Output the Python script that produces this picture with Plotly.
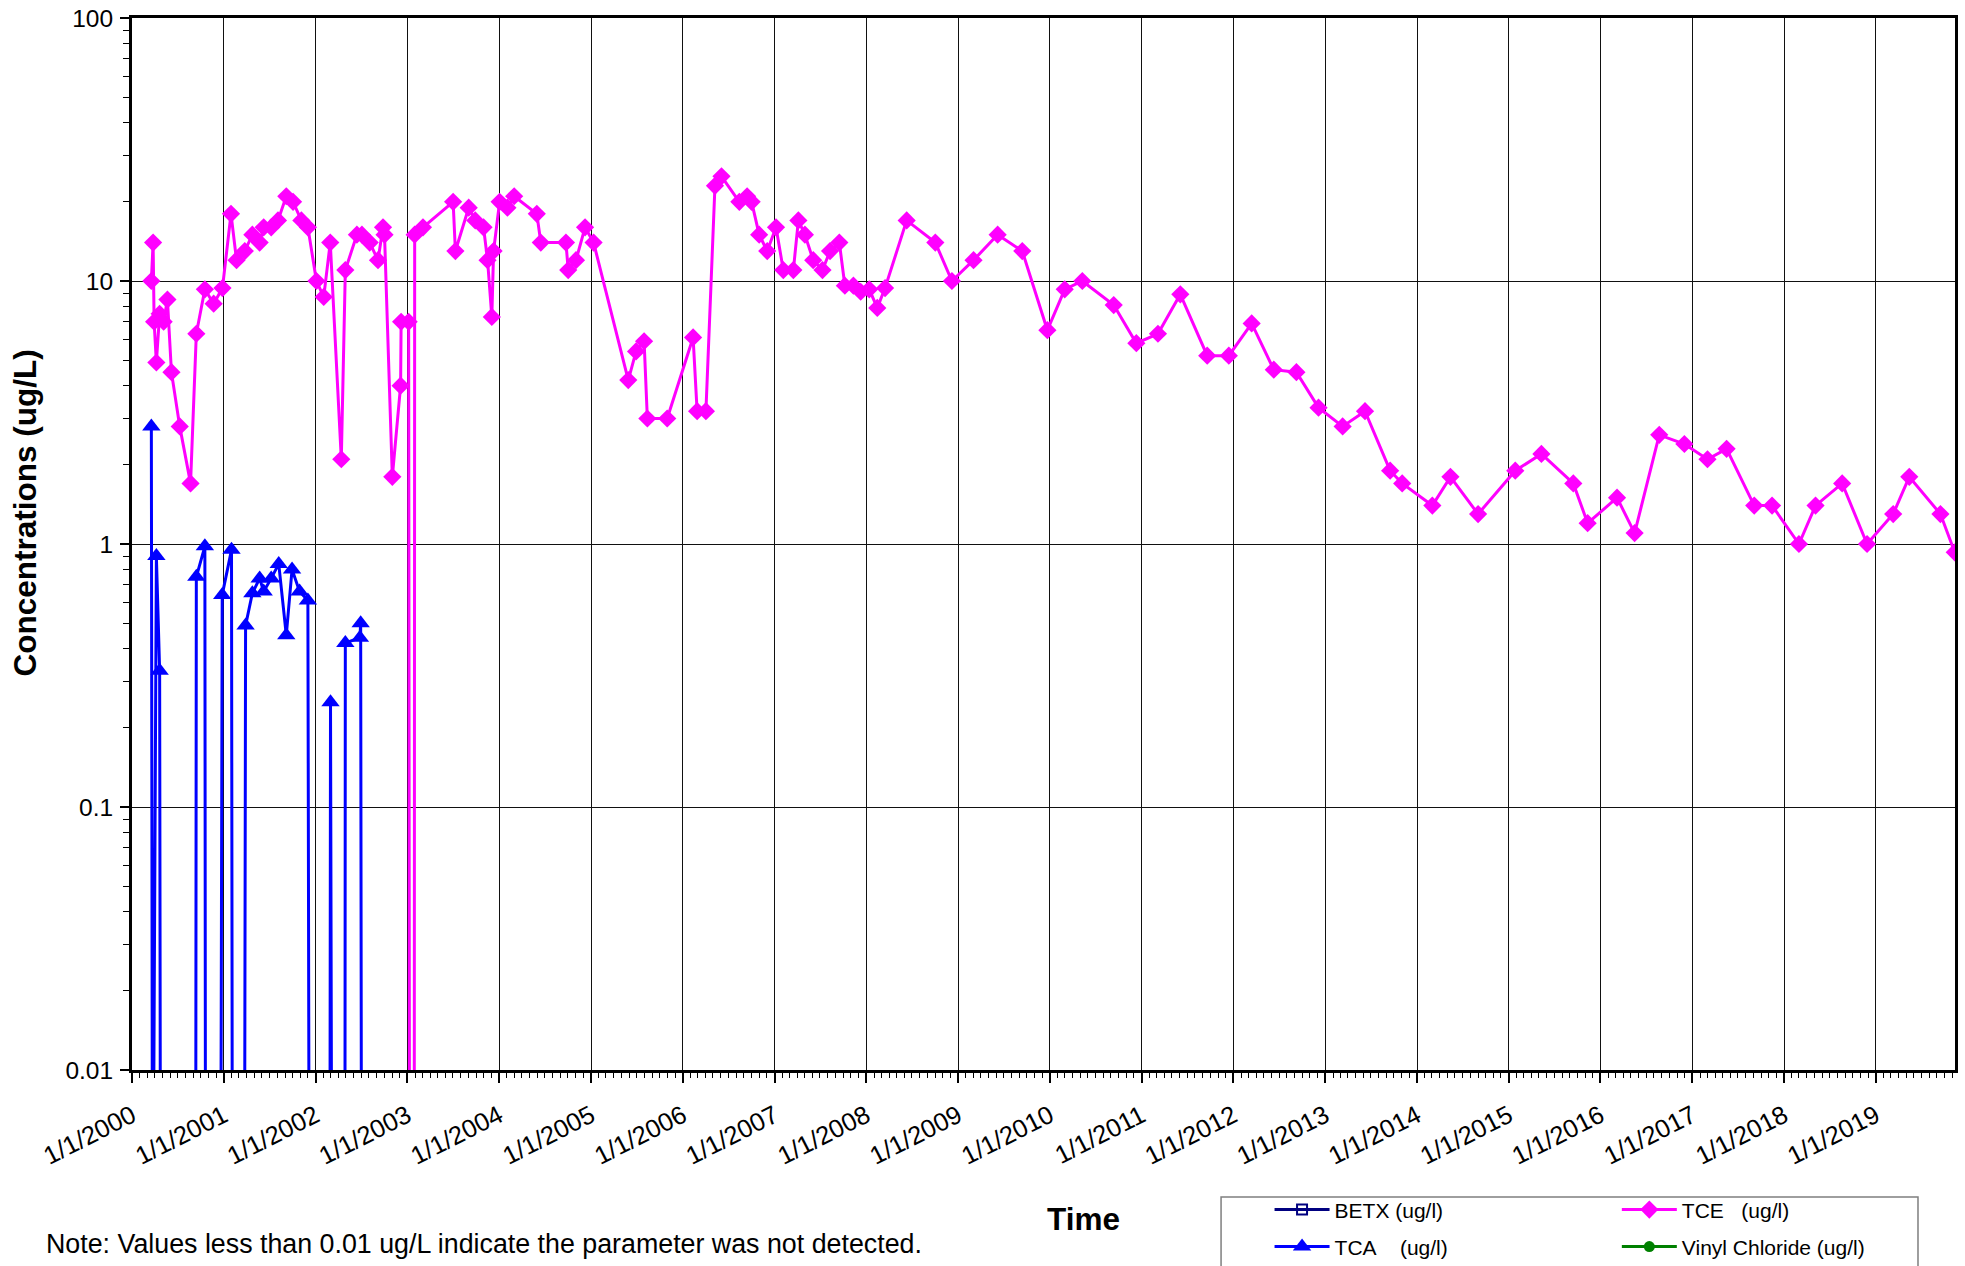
import plotly.graph_objects as go
import numpy as np

ND = 0.001  # non-detect: plotted below the 0.01 axis floor

tce_dates = [
    "2000-03-18", "2000-03-25", "2000-03-29", "2000-04-07", "2000-04-20", "2000-05-06",
    "2000-05-21", "2000-06-06", "2000-07-09", "2000-08-21", "2000-09-13", "2000-10-17",
    "2000-11-21", "2000-12-26", "2001-01-29", "2001-02-20", "2001-03-25", "2001-04-24",
    "2001-05-23", "2001-06-08", "2001-07-08", "2001-08-04", "2001-09-06", "2001-10-03",
    "2001-11-05", "2001-12-01", "2002-01-04", "2002-02-02", "2002-02-28", "2002-04-13",
    "2002-04-29", "2002-06-14", "2002-07-04", "2002-08-04", "2002-09-06", "2002-09-26",
    "2002-10-02", "2002-11-02", "2002-12-05", "2002-12-07", "2003-01-06", "2003-01-10",
    "2003-01-28", "2003-01-30", "2003-03-04", "2003-07-02", "2003-07-11", "2003-09-02",
    "2003-09-28", "2003-10-31", "2003-11-16", "2003-12-03", "2003-12-10", "2004-01-03",
    "2004-02-03", "2004-03-01", "2004-05-30", "2004-06-15", "2004-09-23", "2004-10-02",
    "2004-11-02", "2004-12-08", "2005-01-11", "2005-05-29", "2005-06-29", "2005-07-31",
    "2005-08-13", "2005-10-31", "2006-02-11", "2006-02-27", "2006-04-03", "2006-05-09",
    "2006-06-04", "2006-08-14", "2006-09-14", "2006-10-02", "2006-11-01", "2006-12-03",
    "2007-01-07", "2007-02-05", "2007-03-17", "2007-04-06", "2007-05-02", "2007-06-04",
    "2007-07-11", "2007-08-10", "2007-09-16", "2007-10-08", "2007-11-11", "2007-12-10",
    "2008-01-13", "2008-02-14", "2008-03-16", "2008-06-10", "2008-10-02", "2008-12-07",
    "2009-03-03", "2009-06-07", "2009-09-13", "2009-12-22", "2010-03-01", "2010-05-10",
    "2010-09-12", "2010-12-11", "2011-03-07", "2011-06-04", "2011-09-19", "2011-12-14",
    "2012-03-14", "2012-06-10", "2012-09-08", "2012-12-05", "2013-03-11", "2013-06-08",
    "2013-09-16", "2013-11-03", "2014-03-03", "2014-05-14", "2014-09-01", "2015-01-27",
    "2015-05-11", "2015-09-15", "2015-11-11", "2016-03-07", "2016-05-16", "2016-08-22",
    "2016-11-30", "2017-03-02", "2017-05-17", "2017-09-04", "2017-11-14", "2018-03-01",
    "2018-05-06", "2018-08-20", "2018-11-27", "2019-03-11", "2019-05-14", "2019-09-15",
    "2019-11-11",
]
tce_values = [
    10, 14, 7.0, 4.9, 7.5, 7.0,
    8.5, 4.5, 2.8, 1.7, 6.3, 9.3,
    8.2, 9.4, 18, 12, 13, 15,
    14, 16, 16, 17, 21, 20,
    17, 16, 10, 8.7, 14, 2.1,
    11, 15, 15, 14, 12, 16,
    15, 1.8, 4.0, 7.0, 7.0, ND,
    ND, 15, 16, 20, 13, 19,
    17, 16, 12, 7.3, 13, 20,
    19, 21, 18, 14, 14, 11,
    12, 16, 14, 4.2, 5.4, 5.9,
    3.0, 3.0, 6.1, 3.2, 3.2, 23,
    25, 20, 21, 20, 15, 13,
    16, 11, 11, 17, 15, 12,
    11, 13, 14, 9.6, 9.6, 9.1,
    9.3, 7.9, 9.4, 17, 14, 10,
    12, 15, 13, 6.5, 9.3, 10,
    8.1, 5.8, 6.3, 8.9, 5.2, 5.2,
    6.9, 4.6, 4.5, 3.3, 2.8, 3.2,
    1.9, 1.7, 1.4, 1.8, 1.3, 1.9,
    2.2, 1.7, 1.2, 1.5, 1.1, 2.6,
    2.4, 2.1, 2.3, 1.4, 1.4, 1.0,
    1.4, 1.7, 1.0, 1.3, 1.8, 1.3,
    0.93,
]

tca_dates = [
    "2000-03-18", "2000-03-23", "2000-04-07", "2000-04-20", "2000-04-24", "2000-09-10",
    "2000-09-13", "2000-10-17", "2000-10-20", "2000-12-18", "2000-12-25", "2001-01-31",
    "2001-02-04", "2001-03-23", "2001-03-28", "2001-04-24", "2001-05-23", "2001-06-08",
    "2001-07-08", "2001-08-07", "2001-09-06", "2001-09-29", "2001-10-29", "2001-12-01",
    "2001-12-07", "2002-02-26", "2002-03-01", "2002-03-07", "2002-04-27", "2002-04-29",
    "2002-06-26", "2002-06-29", "2002-07-03",
]
tca_values = [
    2.8, ND, 0.9, 0.33, ND, ND,
    0.75, 0.98, ND, ND, 0.64, 0.95,
    ND, ND, 0.49, 0.65, 0.74, 0.66,
    0.74, 0.84, 0.45, 0.80, 0.66, 0.61,
    ND, ND, 0.25, ND, ND, 0.42,
    0.44, 0.50, ND,
]

# BETX and vinyl chloride were never detected (below the plotted floor)
betx_dates = ["2000-03-18"]
betx_values = [ND]
vc_dates = ["2000-03-18"]
vc_values = [ND]

series_names = ["BETX (ug/l)", "TCE\u00a0\u00a0\u00a0(ug/l)", "TCA\u00a0\u00a0\u00a0\u00a0(ug/l)", "Vinyl Chloride (ug/l)"]

y_tick_vals = [0.01, 0.1, 1, 10, 100]
y_tick_text = ["0.01", "0.1", "1", "10", "100"]

FONT = "Liberation Sans, Arial, sans-serif"

fig = go.Figure()
fig.add_trace(go.Scatter(
    x=betx_dates, y=betx_values, name=series_names[0], mode="lines+markers",
    line=dict(color="#000080", width=3),
    marker=dict(symbol="square-open", size=10, color="#000080", line=dict(width=2, color="#000080")),
    legend="legend"))
fig.add_trace(go.Scatter(
    x=tce_dates, y=tce_values, name=series_names[1], mode="lines+markers",
    line=dict(color="#FF00FF", width=3),
    marker=dict(symbol="diamond", size=14, color="#FF00FF"),
    legend="legend2"))
fig.add_trace(go.Scatter(
    x=tca_dates, y=tca_values, name=series_names[2], mode="lines+markers",
    line=dict(color="#0000FF", width=3),
    marker=dict(symbol="triangle-up", size=16, color="#0000FF"),
    legend="legend3"))
fig.add_trace(go.Scatter(
    x=vc_dates, y=vc_values, name=series_names[3], mode="lines+markers",
    line=dict(color="#008000", width=3),
    marker=dict(symbol="circle", size=11, color="#008000"),
    legend="legend4"))

minor_y = [k * 10.0 ** e for e in range(-2, 2) for k in range(2, 10)]
X_RANGE = ["2000-01-01", "2019-11-12"]

leg_common = dict(font=dict(family=FONT, size=21, color="black"), bgcolor="rgba(0,0,0,0)",
                  borderwidth=0, xanchor="left", yanchor="middle", orientation="v",
                  itemwidth=55)

fig.update_layout(
    width=1965, height=1266,
    margin=dict(l=132, r=10, t=17.5, b=196, autoexpand=False),
    paper_bgcolor="white", plot_bgcolor="white",
    font=dict(family=FONT, color="black"),
    showlegend=True,
    legend=dict(x=0.624, y=-0.1330, **leg_common),
    legend2=dict(x=0.8145, y=-0.1330, **leg_common),
    legend3=dict(x=0.624, y=-0.1682, **leg_common),
    legend4=dict(x=0.8145, y=-0.1682, **leg_common),
    xaxis=dict(
        type="date", range=X_RANGE,
        tick0="2000-01-01", dtick="M12", tickformat="%-m/%-d/%Y",
        tickangle=-27, tickfont=dict(family=FONT, size=25.5, color="black"),
        ticks="outside", ticklen=10, tickwidth=1.5, tickcolor="black",
        ticklabelstandoff=8, ticklabeloverflow="allow",
        showgrid=True, gridcolor="#111111", gridwidth=1,
        showline=True, linewidth=3, linecolor="black", mirror=True,
        zeroline=False,
        minor=dict(dtick="M1", ticks="outside", ticklen=5, tickwidth=1, tickcolor="black", showgrid=False),
    ),
    # overlay axis only to draw the inner half of the crossing minor ticks
    xaxis2=dict(
        type="date", range=X_RANGE, overlaying="x", anchor="y", side="bottom",
        tick0="2000-01-01", dtick="M12", ticks="", showticklabels=False,
        showgrid=False, showline=False, zeroline=False,
        minor=dict(dtick="M1", ticks="inside", ticklen=5, tickwidth=1, tickcolor="black", showgrid=False),
    ),
    yaxis=dict(
        type="log", range=[-2, 2],
        tickmode="array", tickvals=y_tick_vals, ticktext=y_tick_text,
        tickfont=dict(family=FONT, size=24.5, color="black"),
        ticks="outside", ticklen=9, tickwidth=1.5, tickcolor="black",
        ticklabelstandoff=2, ticklabeloverflow="allow",
        showgrid=True, gridcolor="#111111", gridwidth=1,
        showline=True, linewidth=3, linecolor="black", mirror=True,
        zeroline=False,
        minor=dict(tickvals=minor_y, ticks="outside", ticklen=6, tickwidth=1, tickcolor="black", showgrid=False),
    ),
    yaxis2=dict(
        type="log", range=[-2, 2], overlaying="y", anchor="x", side="left",
        tickmode="array", tickvals=y_tick_vals, ticks="", showticklabels=False,
        showgrid=False, showline=False, zeroline=False,
        minor=dict(tickvals=minor_y, ticks="inside", ticklen=6, tickwidth=1, tickcolor="black", showgrid=False),
    ),
    shapes=[dict(type="rect", xref="paper", yref="paper",
                 x0=0.5974, x1=0.9797, y0=-0.1207, y1=-0.24,
                 line=dict(color="#7f7f7f", width=1.5), fillcolor="rgba(0,0,0,0)")],
    annotations=[
        dict(text="<b>Time</b>", xref="paper", yref="paper", x=0.5222, y=-0.1416,
             showarrow=False, font=dict(family=FONT, size=31.5, color="black"),
             xanchor="center", yanchor="middle"),
        dict(text="<b>Concentrations (ug/L)</b>", xref="paper", yref="paper", x=-0.0587, y=0.530,
             showarrow=False, textangle=-90, font=dict(family=FONT, size=31.5, color="black"),
             xanchor="center", yanchor="middle"),
        dict(text="Note: Values less than 0.01 ug/L indicate the parameter was not detected.",
             xref="paper", yref="paper", x=-0.0483, y=-0.1653, showarrow=False,
             font=dict(family=FONT, size=26.8, color="black"), xanchor="left", yanchor="middle"),
    ],
)

# remove the default page margin so the 1965x1266 figure fills the window exactly
fig.write_html("out.html", config={"displayModeBar": False},
               post_script="document.body.style.margin='0';")
